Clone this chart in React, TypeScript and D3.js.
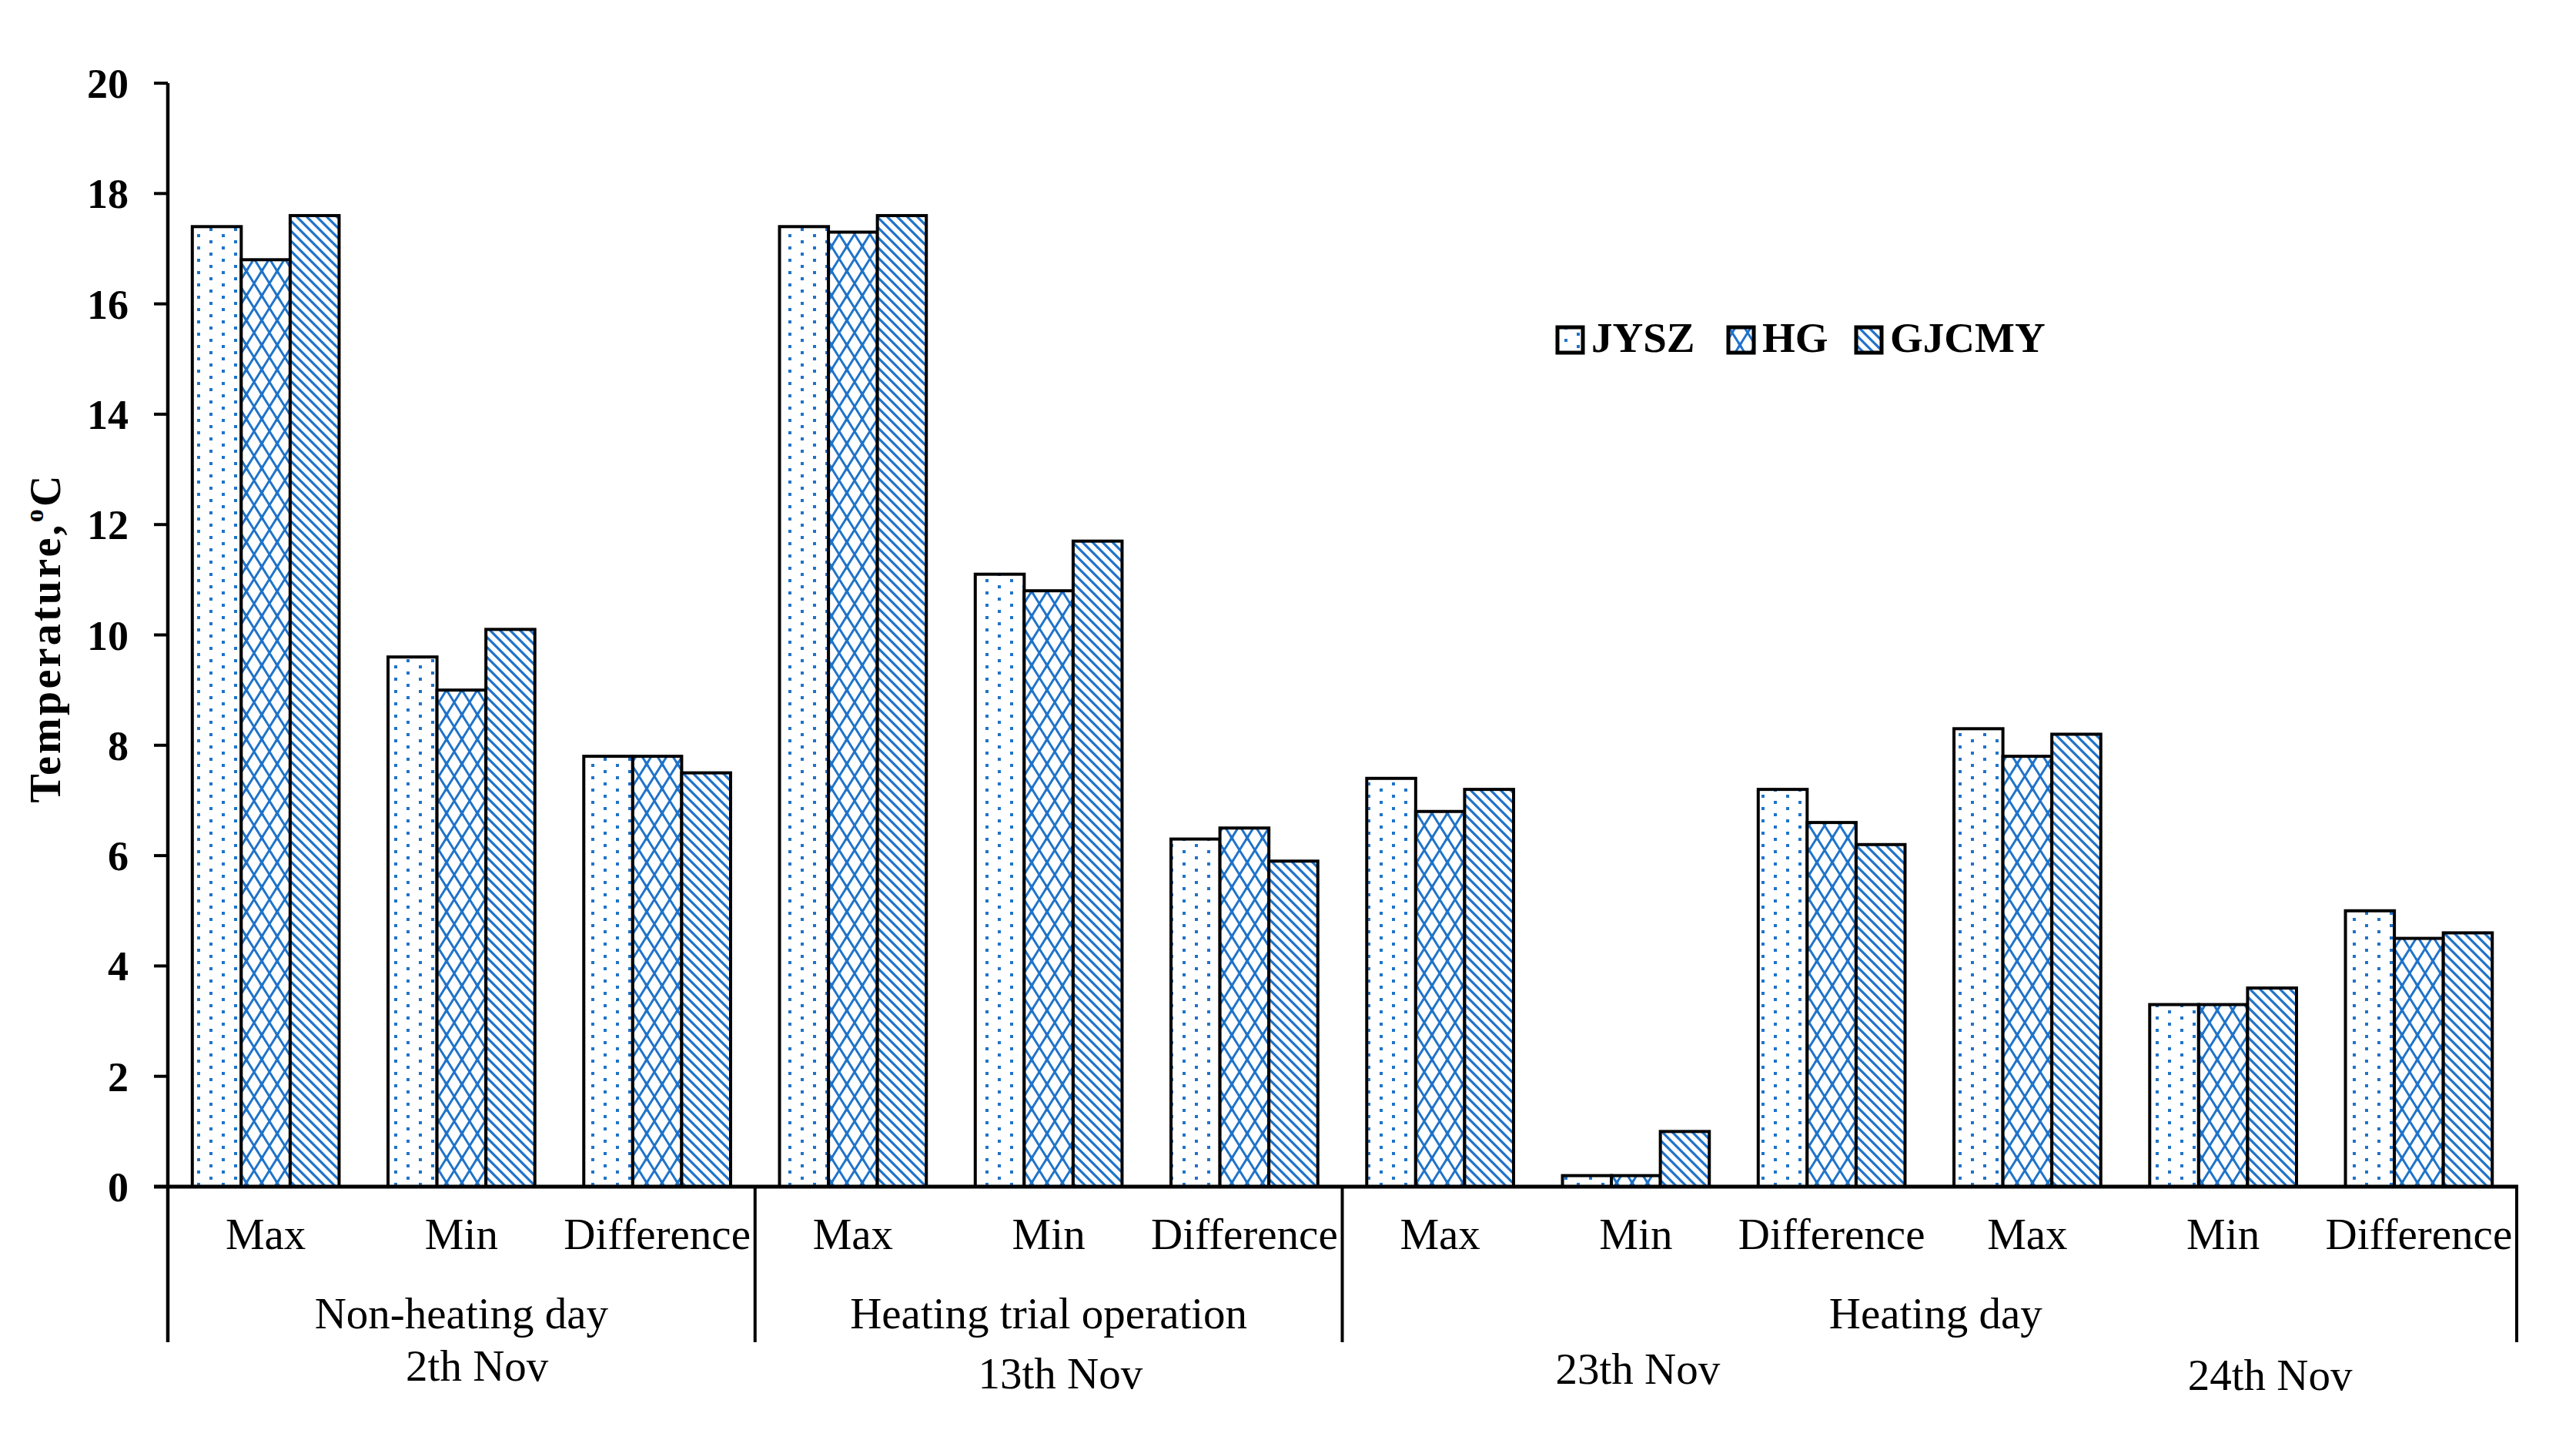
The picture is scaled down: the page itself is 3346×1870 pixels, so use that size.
import React from 'react';
import * as d3 from 'd3';

const categories = ['Max', 'Min', 'Difference', 'Max', 'Min', 'Difference', 'Max', 'Min', 'Difference', 'Max', 'Min', 'Difference'];
const seriesNames = ['JYSZ', 'HG', 'GJCMY'];
const jysz = [17.4, 9.6, 7.8, 17.4, 11.1, 6.3, 7.4, 0.2, 7.2, 8.3, 3.3, 5.0];
const hg = [16.8, 9.0, 7.8, 17.3, 10.8, 6.5, 6.8, 0.2, 6.6, 7.8, 3.3, 4.5];
const gjcmy = [17.6, 10.1, 7.5, 17.6, 11.7, 5.9, 7.2, 1.0, 6.2, 8.2, 3.6, 4.6];
const yTicks = [0, 2, 4, 6, 8, 10, 12, 14, 16, 18, 20];
const groupLabels = ['Non-heating day', 'Heating trial operation', 'Heating day'];
const groupStart = [0, 3, 6];
const groupEnd = [3, 6, 12];
const dateLabels = ['2th Nov', '13th Nov', '23th Nov', '24th Nov'];

// layout
const W = 3346, H = 1870;
const X0 = 218, X1 = 3269, Y0 = 1541, Y20 = 108;
const datePos = [1.58, 4.56, 7.51, 10.74];
const dateBase = [1793, 1803, 1797, 1805];
const groupShift = [0, 0, 8];
const legendX = [2023, 2245, 2411];
const BLUE = '#1f73c9';
const FONT = '"Liberation Serif", "Times New Roman", serif';
const FS = 57;

export default function App() {
  const values = [jysz, hg, gjcmy];
  const x = d3.scaleBand<number>().domain(d3.range(categories.length)).range([X0, X1]).paddingInner(0).paddingOuter(0);
  const cw = x.bandwidth();
  const xs = d3.scaleBand<number>().domain(d3.range(seriesNames.length)).range([cw / 8, cw * 7 / 8]).padding(0);
  const y = d3.scaleLinear().domain([0, 20]).range([Y0, Y20]);
  const xCont = d3.scaleLinear().domain([0, categories.length]).range([X0, X1]);
  const patIds = ['pDots', 'pDiam', 'pDiag'];

  return (
    <svg width={W} height={H} style={{ position: 'absolute', left: 0, top: 0, background: '#fff' }} fontFamily={FONT}>
      <defs>
        <pattern id="pDots" patternUnits="userSpaceOnUse" width={32} height={16}>
          <rect width={32} height={16} fill="#fff" />
          <rect x={0} y={0} width={4} height={4} fill={BLUE} />
          <rect x={16} y={8} width={4} height={4} fill={BLUE} />
        </pattern>
        <pattern id="pDiam" patternUnits="userSpaceOnUse" width={20} height={32}>
          <rect width={20} height={32} fill="#fff" />
          <path d="M0,0 L20,32 M20,0 L0,32" stroke={BLUE} strokeWidth={3} fill="none" />
          <path d="M-2,-3 L2,3 M18,-3 L22,3 M-2,29 L2,35 M18,29 L22,35 M22,-3 L18,3 M2,-3 L-2,3 M22,29 L18,35 M2,29 L-2,35" stroke={BLUE} strokeWidth={3} fill="none" />
        </pattern>
        <pattern id="pDiag" patternUnits="userSpaceOnUse" width={13} height={13}>
          <rect width={13} height={13} fill="#fff" />
          <path d="M-3,-3 L16,16 M-3,10 L3,16 M10,-3 L16,3" stroke={BLUE} strokeWidth={3.2} fill="none" />
        </pattern>
      </defs>
      <rect width={W} height={H} fill="#fff" />

      {/* bars */}
      {values.map((vals, s) => (
        <g key={s}>
          {vals.map((v, i) => (
            <rect key={i} x={(x(i) as number) + (xs(s) as number)} y={y(v)} width={xs.bandwidth()} height={Y0 - y(v)}
              fill={`url(#${patIds[s]})`} stroke="#000" strokeWidth={4} />
          ))}
        </g>
      ))}

      {/* y axis */}
      <line x1={X0} x2={X0} y1={Y20} y2={1743} stroke="#000" strokeWidth={4.5} />
      {yTicks.map(t => (
        <g key={t}>
          <line x1={200} x2={X0} y1={y(t)} y2={y(t)} stroke="#000" strokeWidth={4} />
          <text x={167} y={y(t) + 19} textAnchor="end" fontSize={54} fontWeight="bold">{t}</text>
        </g>
      ))}
      <text transform={`translate(78,830) rotate(-90)`} textAnchor="middle" fontSize={56} fontWeight="bold" textLength={425} lengthAdjust="spacing">
        Temperature,<tspan fontSize={34} dy={-22}>o</tspan><tspan dy={22}>C</tspan>
      </text>

      {/* x axis */}
      <line x1={200} x2={X1 + 2} y1={Y0} y2={Y0} stroke="#000" strokeWidth={5} />
      {categories.map((c, i) => (
        <text key={i} x={(x(i) as number) + cw / 2} y={1622} textAnchor="middle" fontSize={FS}>{c}</text>
      ))}
      {groupLabels.map((g, i) => (
        <g key={i}>
          <line x1={xCont(groupEnd[i])} x2={xCont(groupEnd[i])} y1={Y0} y2={1743} stroke="#000" strokeWidth={4} />
          <text x={(xCont(groupStart[i]) + xCont(groupEnd[i])) / 2 + groupShift[i]} y={1725} textAnchor="middle" fontSize={FS}>{g}</text>
        </g>
      ))}
      {dateLabels.map((d, i) => (
        <text key={i} x={xCont(datePos[i])} y={dateBase[i]} textAnchor="middle" fontSize={FS}>{d}</text>
      ))}

      {/* legend */}
      {seriesNames.map((n, i) => (
        <g key={n}>
          <rect x={legendX[i]} y={425} width={33} height={33} fill={`url(#${patIds[i]})`} stroke="#000" strokeWidth={5} />
          <text x={legendX[i] + 44} y={457} fontSize={55} fontWeight="bold">{n}</text>
        </g>
      ))}
    </svg>
  );
}
